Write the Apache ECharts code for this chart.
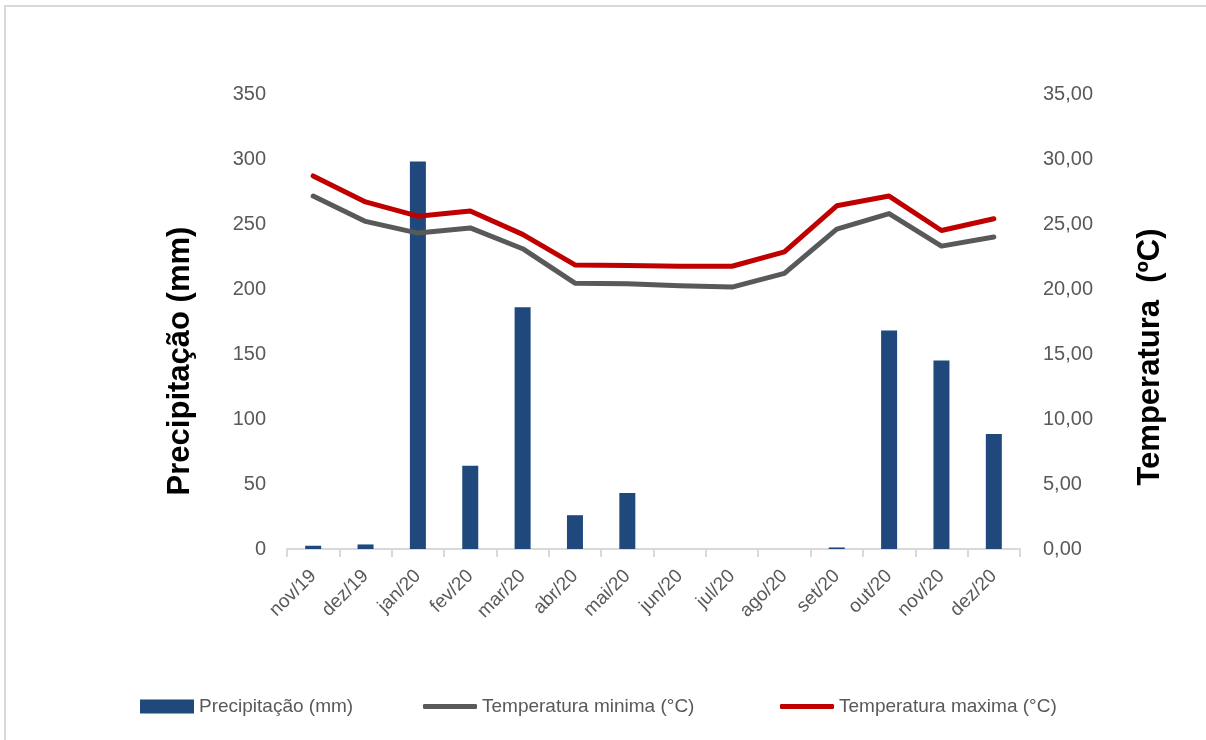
<!DOCTYPE html>
<html>
<head>
<meta charset="utf-8">
<script src="https://cdn.jsdelivr.net/npm/echarts@6/dist/echarts.min.js"></script>
<style>
  html, body { margin: 0; padding: 0; background: #fff; }
  #chart { width: 1206px; height: 740px; }
</style>
</head>
<body>
<div id="chart"></div>
<script>
// Monthly climate record, nov/2019 – dez/2020
const months = ['nov/19', 'dez/19', 'jan/20', 'fev/20', 'mar/20', 'abr/20', 'mai/20',
                'jun/20', 'jul/20', 'ago/20', 'set/20', 'out/20', 'nov/20', 'dez/20'];
const precipitation = [2.5, 3.5, 298, 64, 186, 26, 43, 0, 0, 0, 1.2, 168, 145, 88.5];
const tempMin = [27.15, 25.2, 24.3, 24.7, 23.1, 20.45, 20.4, 20.25, 20.15, 21.2, 24.6, 25.8, 23.3, 24.0];
const tempMax = [28.7, 26.7, 25.6, 26.0, 24.2, 21.85, 21.8, 21.75, 21.75, 22.85, 26.4, 27.15, 24.5, 25.4];

const FONT = '"Liberation Sans", Arial, sans-serif';
const TICK_GREY = '#595959';
const AXIS_GREY = '#d9d9d9';
const BAR_BLUE = '#1f497d';
const MIN_GREY = '#595959';
const MAX_RED = '#c00000';

const chart = echarts.init(document.getElementById('chart'), null, { renderer: 'canvas' });

// one legend block per series so each entry sits at its own spot
function legendAt(left, name, icon, h) {
  return {
    left: left,
    top: 692,
    itemWidth: 54,
    itemHeight: h,
    icon: icon,
    textStyle: { fontFamily: FONT, fontSize: 19, color: TICK_GREY },
    data: [name]
  };
}

chart.setOption({
  animation: false,
  backgroundColor: '#ffffff',
  textStyle: { fontFamily: FONT },
  graphic: [{
    type: 'rect',
    shape: { x: 5, y: 6, width: 1400, height: 1000 },
    style: { fill: 'none', stroke: AXIS_GREY, lineWidth: 2 },
    silent: true
  }, {
    type: 'text',
    x: 180, y: 361,
    rotation: Math.PI / 2,
    style: {
      text: 'Precipitação (mm)',
      font: 'bold 31px ' + FONT,
      fill: '#000',
      align: 'center',
      verticalAlign: 'middle'
    },
    silent: true
  }, {
    type: 'text',
    x: 1150, y: 357,
    rotation: Math.PI / 2,
    style: {
      text: 'Temperatura  (ºC)',
      font: 'bold 31px ' + FONT,
      fill: '#000',
      align: 'center',
      verticalAlign: 'middle'
    },
    silent: true
  }],
  grid: { left: 287, right: 186, top: 94, bottom: 191, containLabel: false },
  legend: [
    legendAt(135, 'Precipitação (mm)', 'rect', 14),
    legendAt(418, 'Temperatura minima (°C)', 'roundRect', 5),
    legendAt(775, 'Temperatura maxima (°C)', 'roundRect', 5)
  ],
  xAxis: {
    type: 'category',
    data: months,
    boundaryGap: true,
    axisLine: { show: true, lineStyle: { color: AXIS_GREY, width: 2 } },
    axisTick: { show: true, length: 8, lineStyle: { color: AXIS_GREY, width: 2 } },
    axisLabel: {
      rotate: 45,
      interval: 0,
      margin: 24,
      fontFamily: FONT,
      fontSize: 19,
      color: TICK_GREY
    },
    splitLine: { show: false }
  },
  yAxis: [{
    type: 'value',
    min: 0,
    max: 350,
    interval: 50,
    axisLine: { show: false },
    axisTick: { show: false },
    splitLine: { show: false },
    axisLabel: { fontFamily: FONT, fontSize: 20, color: TICK_GREY, margin: 21 }
  }, {
    type: 'value',
    min: 0,
    max: 35,
    interval: 5,
    axisLine: { show: false },
    axisTick: { show: false },
    splitLine: { show: false },
    axisLabel: {
      fontFamily: FONT, fontSize: 20, color: TICK_GREY, margin: 23,
      formatter: v => v.toFixed(2).replace('.', ',')
    }
  }],
  series: [{
    name: 'Precipitação (mm)',
    type: 'bar',
    yAxisIndex: 0,
    data: precipitation,
    barWidth: 16,
    itemStyle: { color: BAR_BLUE }
  }, {
    name: 'Temperatura minima (°C)',
    type: 'line',
    yAxisIndex: 1,
    data: tempMin,
    symbol: 'none',
    lineStyle: { color: MIN_GREY, width: 5, join: 'round', cap: 'round' },
    itemStyle: { color: MIN_GREY }
  }, {
    name: 'Temperatura maxima (°C)',
    type: 'line',
    yAxisIndex: 1,
    data: tempMax,
    symbol: 'none',
    lineStyle: { color: MAX_RED, width: 5, join: 'round', cap: 'round' },
    itemStyle: { color: MAX_RED }
  }]
});
</script>
</body>
</html>
